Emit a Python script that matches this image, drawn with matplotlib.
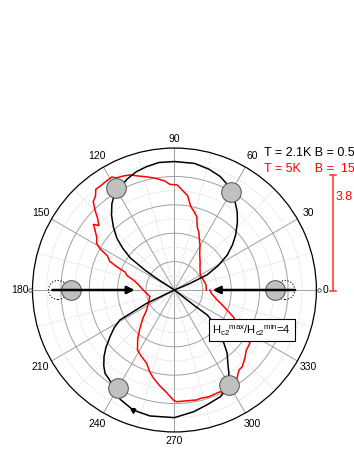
import numpy as np
import matplotlib
matplotlib.use('Agg')
import matplotlib.pyplot as plt
from matplotlib.lines import Line2D

plt.rcParams['font.family'] = ['Liberation Sans', 'DejaVu Sans']
plt.rcParams['mathtext.fontset'] = 'custom'
plt.rcParams['mathtext.rm'] = 'Liberation Sans'
plt.rcParams['mathtext.it'] = 'Liberation Sans:italic'

# black curve, T = 2.1K (angle in degrees, normalised radius)
black_up_deg = [20, 23, 25, 29, 33.5, 38, 42, 47, 51.3, 56, 61, 64, 68, 74, 81, 90, 97,
                103, 108, 113, 117, 121, 126, 130, 134, 138, 141, 144, 146, 147, 148]
black_up_r = [0.0, 0.12, 0.254, 0.35, 0.446, 0.52, 0.58, 0.65, 0.707, 0.76, 0.80, 0.835,
              0.862, 0.885, 0.903, 0.905, 0.905, 0.89, 0.875, 0.85, 0.825, 0.81, 0.75,
              0.69, 0.62, 0.546, 0.47, 0.385, 0.25, 0.15, 0.0]
black_dn_deg = [205, 205.6, 208.8, 212, 215.9, 220, 223.4, 227, 230.2, 234, 238, 243.6,
                251, 259, 270, 279, 286, 293.4, 299, 303.2, 306, 309.8, 313, 316.9, 320,
                322.7, 322, 323]
black_dn_r = [0.0, 0.217, 0.438, 0.50, 0.56, 0.63, 0.683, 0.73, 0.764, 0.78, 0.81, 0.86,
              0.894, 0.904, 0.899, 0.868, 0.84, 0.818, 0.78, 0.70, 0.64, 0.58, 0.51,
              0.446, 0.37, 0.29, 0.173, 0.0]

# red curve, T = 5K
red_deg = [0, 10, 20, 30, 40, 48, 55, 60, 64, 67, 70, 73, 76, 79, 82, 85, 88.5, 92.5, 95,
           97.5, 100, 104, 108, 111, 114, 117.5, 119, 122, 125, 128, 130, 132.6, 135, 137,
           139.5, 141, 143, 146, 149, 151, 153, 156, 158, 160, 163, 167, 171, 175, 180,
           190, 195, 205, 215.7, 222, 228.8, 233, 238.3, 243, 249.2, 253, 256.5, 261,
           265.6, 269.4, 271.1, 276, 281.4, 283.6, 288, 294.1, 295.6, 299, 303.9, 304.6,
           308.9, 311.5, 316, 320, 324.8, 326.7, 330, 335.5, 341.4, 348, 355, 360]
red_r = [0.225, 0.225, 0.215, 0.21, 0.235, 0.27, 0.31, 0.36, 0.40, 0.44, 0.47, 0.54, 0.57,
         0.60, 0.67, 0.70, 0.74, 0.745, 0.77, 0.785, 0.80, 0.822, 0.845, 0.868, 0.88, 0.89,
         0.91, 0.905, 0.90, 0.90, 0.865, 0.845, 0.79, 0.74, 0.70, 0.735, 0.70, 0.66, 0.64,
         0.60, 0.53, 0.50, 0.44, 0.37, 0.35, 0.29, 0.26, 0.24, 0.22,
         0.19, 0.179, 0.20, 0.241, 0.30, 0.374, 0.43, 0.496, 0.52, 0.552, 0.60, 0.637,
         0.68, 0.724, 0.775, 0.787, 0.785, 0.79, 0.785, 0.79, 0.785, 0.806, 0.81, 0.792,
         0.77, 0.724, 0.721, 0.69, 0.66, 0.651, 0.60, 0.53, 0.455, 0.368, 0.30, 0.26, 0.25]

# grey discs (field directions) and dotted start positions
disc_deg = [0, 60, 120, 180, 240, 300]
disc_r = [0.71, 0.80, 0.826, 0.73, 0.80, 0.775]
dot_deg = [0, 180]
dot_r = [0.78, 0.82]

angle_ticks = list(range(0, 360, 30))
angle_labels = [str(a) for a in angle_ticks]

fig = plt.figure(figsize=(3.54, 4.58), dpi=100)
ax = fig.add_axes([0.0918, 0.0568, 0.802, 0.620], projection='polar')
ax.set_ylim(0, 1)

# grid
ax.set_xticks(np.radians(angle_ticks))
ax.set_xticklabels([])
ax.set_xticks(np.radians(np.arange(15, 360, 30)), minor=True)
ax.set_yticks([0.2, 0.4, 0.6, 0.8])
ax.set_yticks([0.1, 0.3, 0.5, 0.7, 0.9], minor=True)
ax.set_yticklabels([])
ax.tick_params(axis='both', which='both', length=0)
ax.grid(True, which='major', color='#a0a0a0', lw=0.7, ls='-')
ax.grid(True, which='minor', color='#c8c8c8', lw=0.6, ls=':')
ax.spines['polar'].set_linewidth(0.9)

for a, lab in zip(angle_ticks, angle_labels):
    rr = 1.065 if a in (0, 90, 270) else 1.09
    if a == 0:
        ax.text(np.radians(a), 1.045, lab, fontsize=7.5, ha='left', va='center', clip_on=False)
    else:
        ax.text(np.radians(a), rr, lab, fontsize=7.5, ha='center', va='center', clip_on=False)

ax.plot(np.radians(red_deg), red_r, color='red', lw=1.1, zorder=3)
ax.plot(np.radians(black_up_deg), black_up_r, color='black', lw=1.1, zorder=3)
ax.plot(np.radians(black_dn_deg), black_dn_r, color='black', lw=1.1, zorder=3)
ax.plot(np.radians(251), 0.894, marker=(3, 0, 60), color='black', ms=4, zorder=4)

ax.scatter(np.radians(dot_deg), dot_r, s=190, facecolors='none', edgecolors='black',
           linestyles=':', linewidths=0.8, zorder=4)
ax.scatter(np.radians(disc_deg), disc_r, s=200, facecolors='#c0c0c0',
           edgecolors='#505050', linewidths=0.7, zorder=5)
ax.plot(np.radians([0, 180]), [1.02, 1.02], ls='none', marker='o', ms=2.5,
        mfc='white', mec='#404040', mew=0.6, clip_on=False, zorder=6)

for a, r0, r1 in [(180, 0.86, 0.28), (0, 0.85, 0.27)]:
    ax.annotate('', xy=(np.radians(a), r1), xytext=(np.radians(a), r0),
                arrowprops=dict(arrowstyle='-|>', color='black', lw=1.8,
                                mutation_scale=11, shrinkA=0, shrinkB=0),
                zorder=6)

fig.text(0.746, 0.666, 'T = 2.1K B = 0.5', fontsize=9, color='black', va='center')
fig.text(0.746, 0.631, 'T = 5K    B =  15', fontsize=9, color='red', va='center')
fig.text(0.949, 0.570, '3.8', fontsize=9, color='red', va='center')

ybar_top, ybar_bot = (458 - 175) / 458, (458 - 291) / 458
xbar = 333 / 354
fig.add_artist(Line2D([xbar, xbar], [ybar_bot, ybar_top], color='#ff4040', lw=1.2))
for yb in (ybar_bot, ybar_top):
    fig.add_artist(Line2D([xbar - 0.008, xbar + 0.008], [yb, yb], color='#ff4040', lw=1.2))

fig.text(0.600, 0.279, r'H$_{\rm c2}$$^{\rm max}$/H$_{\rm c2}$$^{\rm min}$=4',
         fontsize=8, va='center',
         bbox=dict(boxstyle='square,pad=0.3', fc='white', ec='black', lw=0.8), zorder=10)

fig.savefig('out.png', dpi=100)
